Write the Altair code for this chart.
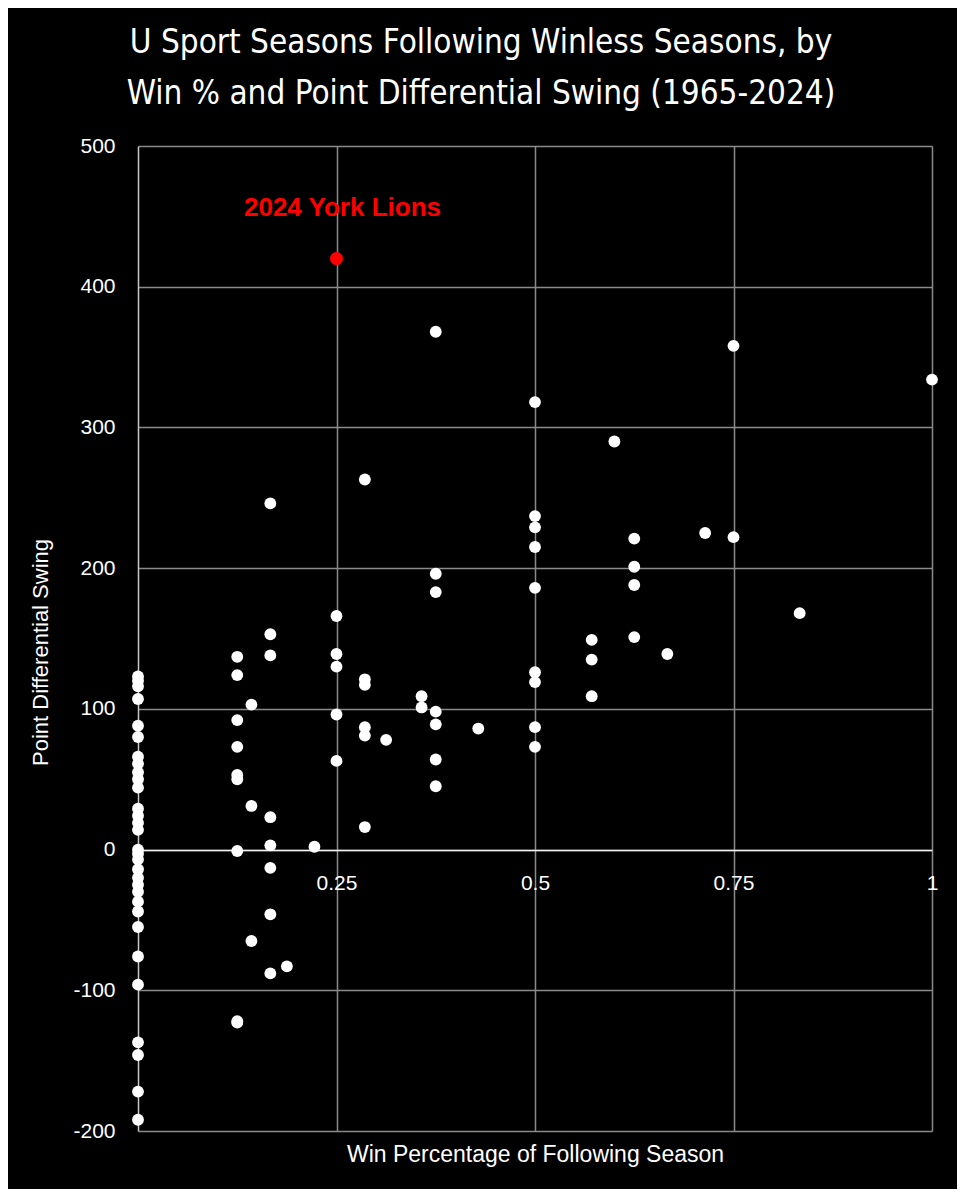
import altair as alt
import pandas as pd

# Data (win % of following season, point differential swing)
groups_x = [0, 0.125, 1/7, 1/6, 3/16, 2/9, 0.25, 2/7, 5/16, 5/14, 0.375, 3/7,
            0.5, 4/7, 0.6, 0.625, 2/3, 5/7, 0.75, 5/6, 1.0]
groups_y = [
    [123, 120, 116, 107, 88, 80, 66, 61, 55, 50, 44, 29, 24, 19, 14, 0, -3, -7,
     -14, -20, -25, -30, -37, -44, -55, -76, -96, -137, -146, -172, -192],
    [137, 124, 92, 73, 53, 50, -1, -122, -123],
    [103, 31, -65],
    [246, 153, 138, 23, 3, -13, -46, -88],
    [-83],
    [2],
    [166, 139, 130, 96, 63],
    [263, 121, 117, 87, 81, 16],
    [78],
    [109, 101],
    [368, 196, 183, 98, 89, 64, 45],
    [86],
    [318, 237, 229, 215, 186, 126, 119, 87, 73],
    [149, 135, 109],
    [290],
    [221, 201, 188, 151],
    [139],
    [225],
    [358, 222],
    [168],
    [334],
]
highlight_x = [0.25]
highlight_y = [420]
highlight_label = ["2024 York Lions"]

x_ticks = [0.25, 0.5, 0.75, 1]
y_ticks = [-200, -100, 0, 100, 200, 300, 400, 500]

rows = []
for gx, ys in zip(groups_x, groups_y):
    for v in ys:
        rows.append({"win": gx, "swing": v})
df = pd.DataFrame(rows)
hdf = pd.DataFrame({"win": highlight_x, "swing": highlight_y, "label": highlight_label})

GRID = "#8a8a8a"
FONT = "Liberation Sans"

x_enc = alt.X("win:Q", scale=alt.Scale(domain=[0, 1], nice=False, zero=False),
              axis=alt.Axis(values=x_ticks, title="Win Percentage of Following Season",
                            offset=-281, ticks=False, domainColor="#f0f0f0", domainWidth=1.5,
                            labelPadding=22, labelFontSize=21, labelColor="white",
                            labelFont=FONT, labelFlush=False,
                            labelExpr="datum.value == 1 ? '1' : format(datum.value, '.2~f')",
                            grid=True, gridColor=GRID, gridWidth=1.5,
                            titleY=304, titleBaseline="middle", titleFontSize=23,
                            titleFontWeight="normal", titleColor="white",
                            titleFont=FONT))
y_enc = alt.Y("swing:Q", scale=alt.Scale(domain=[-200, 500], nice=False),
              axis=alt.Axis(values=y_ticks, title="Point Differential Swing",
                            ticks=False, domainColor="#c8c8c8", domainWidth=1.5,
                            labelPadding=23, labelFontSize=21, labelColor="white",
                            labelFont=FONT, labelExpr="datum.value + ''",
                            grid=True, gridColor=GRID, gridWidth=1.5,
                            titlePadding=20, titleFontSize=22, titleFontWeight="normal",
                            titleColor="white", titleFont=FONT, titleY=506))

points = alt.Chart(df).mark_circle(size=140, color="white", opacity=1).encode(x=x_enc, y=y_enc)

hl = alt.Chart(hdf).mark_circle(size=170, color="#ff0000", opacity=1).encode(
    x="win:Q", y="swing:Q")
hl_text = alt.Chart(hdf).mark_text(color="#ff0000", fontSize=26, fontWeight="bold",
                                   font=FONT, dy=-51, dx=6).encode(
    x="win:Q", y="swing:Q", text="label:N")

chart = alt.layer(points, hl, hl_text).properties(
    width=794, height=985,
    padding={"left": 130, "top": 138, "right": 25, "bottom": 58},
    autosize=alt.AutoSizeParams(type="none"),
    background="black",
    title=alt.TitleParams(
        text=["U Sport Seasons Following Winless Seasons, by",
              "Win % and Point Differential Swing (1965-2024)"],
        color="white", fontSize=33, fontWeight="normal",
        font="Liberation Sans Narrow, DejaVu Sans Condensed, sans-serif",
        anchor="middle", dx=-54, offset=24, lineHeight=51),
).configure_view(stroke=None)

chart.save("out.html", embed_options={"renderer": "svg", "actions": False})
